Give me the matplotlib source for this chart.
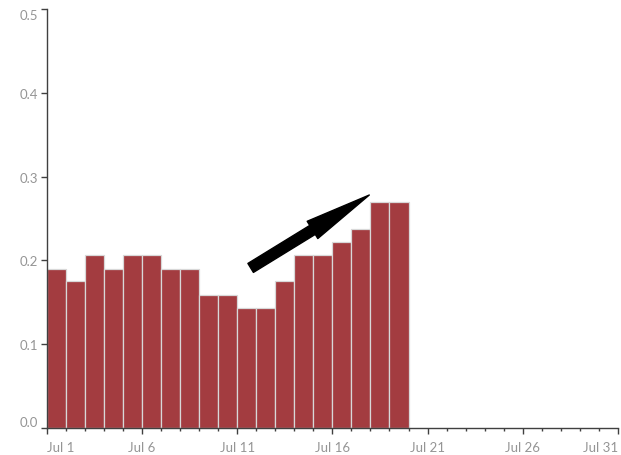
import datetime as dt

import matplotlib
matplotlib.use("Agg")
import matplotlib.dates as mdates
from matplotlib import pyplot as plt
from matplotlib.patches import FancyArrowPatch

# daily values, Jul 1 .. Jul 19
days = [dt.datetime(2023, 7, d) for d in range(1, 20)]
values = [0.19, 0.175, 0.206, 0.19, 0.206, 0.206, 0.19, 0.19, 0.159, 0.159,
          0.143, 0.143, 0.175, 0.206, 0.206, 0.222, 0.238, 0.27, 0.27]

tick_days = [1, 6, 11, 16, 21, 26, 31]
y_ticks = [0.0, 0.1, 0.2, 0.3, 0.4, 0.5]

# trend arrow (tail -> tip), days offset from Jul 1 and value
arrow_tail = (10.71, 0.191)
arrow_tip = (16.94, 0.278)

bar_color = "#a33c40"
label_color = "#959595"
axis_color = "#404040"

plt.rcParams["font.family"] = ["Lato", "DejaVu Sans"]

fig = plt.figure(figsize=(6.21, 4.56), dpi=100)
ax = fig.add_axes([0.0752, 0.0592, 0.920, 0.919])

ax.bar(mdates.date2num(days), values, width=1.0, align="edge",
       color=bar_color, edgecolor="#d8d8d8", linewidth=0.9)

start = mdates.date2num(dt.datetime(2023, 7, 1))
ax.set_xlim(start, mdates.date2num(dt.datetime(2023, 7, 31)))
ax.set_ylim(0, 0.5)

ax.set_xticks([mdates.date2num(dt.datetime(2023, 7, d)) for d in tick_days])
ax.set_xticklabels([f"Jul {d}" for d in tick_days])
ax.xaxis.set_minor_locator(mdates.DayLocator())
ax.set_yticks(y_ticks)
ax.set_yticklabels([f"{v:.1f}" for v in y_ticks])

for s in ["top", "right"]:
    ax.spines[s].set_visible(False)
for s in ["left", "bottom"]:
    ax.spines[s].set_color(axis_color)
    ax.spines[s].set_linewidth(1.0)

ax.tick_params(axis="x", which="major", length=4, width=1, color=axis_color,
               labelsize=9.5, labelcolor=label_color, pad=5)
ax.tick_params(axis="x", which="minor", length=2, width=1, color=axis_color)
ax.tick_params(axis="y", which="major", length=4.5, width=1, color=axis_color,
               labelsize=9.5, labelcolor=label_color, pad=2)

xl = ax.get_xticklabels()
xl[0].set_ha("left")
xl[-1].set_ha("right")
yl = ax.get_yticklabels()
yl[0].set_va("bottom")
yl[-1].set_va("top")

arrow = FancyArrowPatch(
    (start + arrow_tail[0], arrow_tail[1]), (start + arrow_tip[0], arrow_tip[1]),
    arrowstyle="simple,head_length=48,head_width=14.6,tail_width=7.6",
    mutation_scale=1, shrinkA=0, shrinkB=0, color="black", zorder=5)
ax.add_patch(arrow)

fig.savefig("out.png", dpi=100)
